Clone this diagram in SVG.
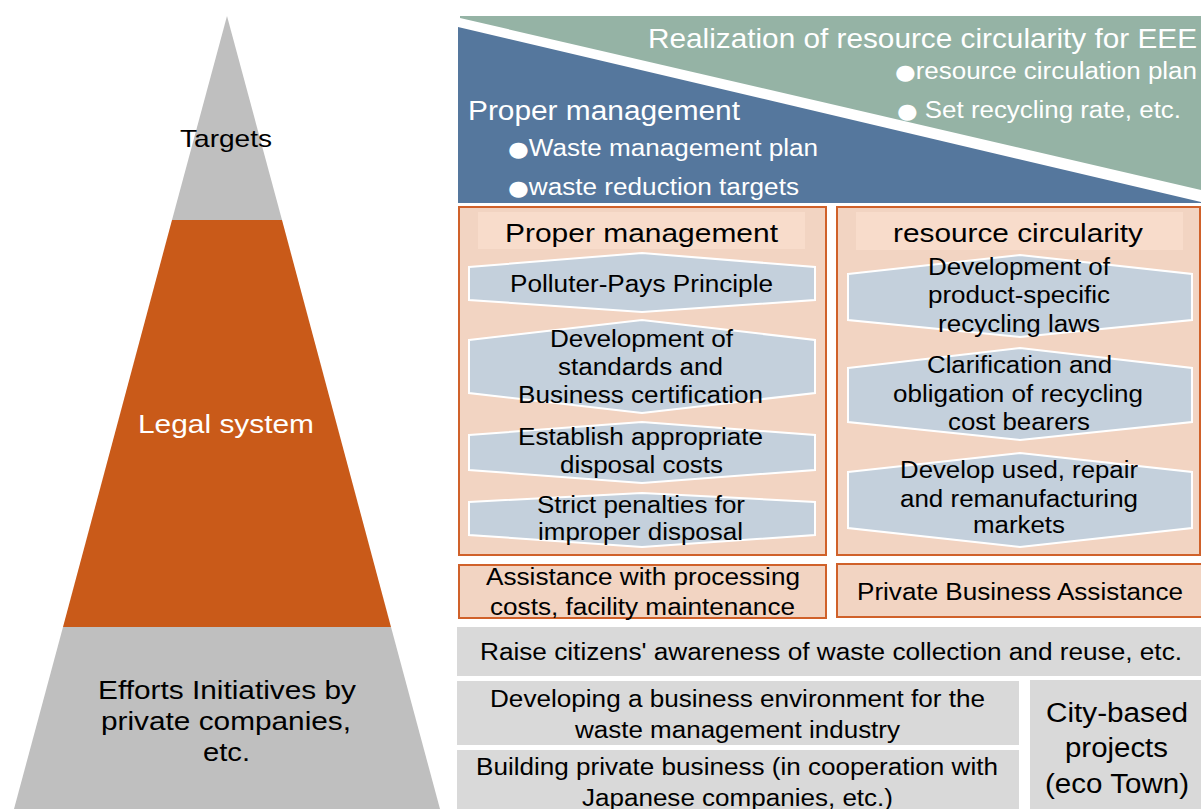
<svg xmlns="http://www.w3.org/2000/svg" width="1201" height="809" viewBox="0 0 1201 809">
  <style>
    text { font-family: "Liberation Sans", Arial, sans-serif; }
    .dark { fill: #000000; }
    .light { fill: #ffffff; }
    .dot { font-family: "DejaVu Sans", sans-serif; font-size: 21px; }
    .panel { fill: #f2d4c2; stroke: #d0612a; stroke-width: 2; }
    .head { fill: #f8dccb; }
    .hex { fill: #c4d0dc; stroke: #ffffff; stroke-width: 2; stroke-linejoin: miter; }
    .grey { fill: #d9d9d9; }
  </style>

  <rect width="1201" height="809" fill="#ffffff"/>

  <!-- Pyramid: targets / legal system / private initiatives -->
  <g id="pyramid-targets">
    <polygon points="227,16 282,220 172,220" fill="#bfbfbf"/>
    <text x="180" y="147" font-size="24" class="dark" textLength="92" lengthAdjust="spacingAndGlyphs">Targets</text>
  </g>
  <g id="pyramid-legal">
    <polygon points="172,220 282,220 391,627 63,627" fill="#c95a19"/>
    <text x="138" y="433" font-size="26" class="light" textLength="176" lengthAdjust="spacingAndGlyphs">Legal system</text>
  </g>
  <g id="pyramid-private">
    <polygon points="63,627 391,627 440,809 14,809" fill="#bfbfbf"/>
    <text x="98" y="699" font-size="26" class="dark" textLength="258" lengthAdjust="spacingAndGlyphs">Efforts Initiatives by</text>
    <text x="101" y="730" font-size="26" class="dark" textLength="250" lengthAdjust="spacingAndGlyphs">private companies,</text>
    <text x="203" y="761" font-size="26" class="dark" textLength="47" lengthAdjust="spacingAndGlyphs">etc.</text>
  </g>

  <!-- Targets banner: two triangles split by a white diagonal -->
  <g id="banner-circularity">
    <polygon points="460,16 1201,16 1201,190 460,18" fill="#95b3a5"/>
    <text x="648" y="48" font-size="28" class="light" textLength="549" lengthAdjust="spacingAndGlyphs">Realization of resource circularity for EEE</text>
    <text x="895" y="79" font-size="23" class="light" textLength="302" lengthAdjust="spacingAndGlyphs"><tspan class="dot">●</tspan>resource circulation plan</text>
    <text x="897" y="118" font-size="23" class="light" textLength="284" lengthAdjust="spacingAndGlyphs"><tspan class="dot">●</tspan> Set recycling rate, etc.</text>
  </g>
  <g id="banner-management">
    <polygon points="458,27 1201,202 1201,203 458,203" fill="#55779d"/>
    <text x="468" y="120" font-size="27" class="light" textLength="272" lengthAdjust="spacingAndGlyphs">Proper management</text>
    <text x="508" y="156" font-size="23" class="light" textLength="310" lengthAdjust="spacingAndGlyphs"><tspan class="dot">●</tspan>Waste management plan</text>
    <text x="508" y="195" font-size="23" class="light" textLength="291" lengthAdjust="spacingAndGlyphs"><tspan class="dot">●</tspan>waste reduction targets</text>
  </g>

  <!-- Legal system: proper management column -->
  <g id="panel-management">
    <rect x="459" y="207" width="367" height="348" class="panel"/>
    <rect x="478" y="212" width="327" height="37" class="head"/>
    <text x="505" y="242" font-size="26" class="dark" textLength="273" lengthAdjust="spacingAndGlyphs">Proper management</text>
  </g>
  <g id="law-polluter-pays">
    <polygon points="469,267 642,253 815,267 815,300 642,312 469,300" class="hex"/>
    <text x="510" y="292" font-size="23" class="dark" textLength="263" lengthAdjust="spacingAndGlyphs">Polluter-Pays Principle</text>
  </g>
  <g id="law-standards">
    <polygon points="469,340 642,320 815,340 815,393 642,413 469,393" class="hex"/>
    <text x="550" y="347" font-size="23" class="dark" textLength="183" lengthAdjust="spacingAndGlyphs">Development of</text>
    <text x="558" y="375" font-size="23" class="dark" textLength="165" lengthAdjust="spacingAndGlyphs">standards and</text>
    <text x="518" y="403" font-size="23" class="dark" textLength="245" lengthAdjust="spacingAndGlyphs">Business certification</text>
  </g>
  <g id="law-disposal-costs">
    <polygon points="469,435 642,422 815,435 815,470 642,483 469,470" class="hex"/>
    <text x="518" y="445" font-size="23" class="dark" textLength="245" lengthAdjust="spacingAndGlyphs">Establish appropriate</text>
    <text x="560" y="473" font-size="23" class="dark" textLength="163" lengthAdjust="spacingAndGlyphs">disposal costs</text>
  </g>
  <g id="law-penalties">
    <polygon points="469,502 642,493 815,502 815,535 642,547 469,535" class="hex"/>
    <text x="537" y="513" font-size="23" class="dark" textLength="208" lengthAdjust="spacingAndGlyphs">Strict penalties for</text>
    <text x="538" y="540" font-size="23" class="dark" textLength="205" lengthAdjust="spacingAndGlyphs">improper disposal</text>
  </g>

  <!-- Legal system: resource circularity column -->
  <g id="panel-circularity">
    <rect x="837" y="207" width="363" height="348" class="panel"/>
    <rect x="856" y="212" width="327" height="38" class="head"/>
    <text x="893" y="242" font-size="26" class="dark" textLength="250" lengthAdjust="spacingAndGlyphs">resource circularity</text>
  </g>
  <g id="law-product-recycling">
    <polygon points="848,274 1020,255 1192,274 1192,320 1020,337 848,320" class="hex"/>
    <text x="928" y="275" font-size="23" class="dark" textLength="182" lengthAdjust="spacingAndGlyphs">Development of</text>
    <text x="928" y="303" font-size="23" class="dark" textLength="182" lengthAdjust="spacingAndGlyphs">product-specific</text>
    <text x="938" y="332" font-size="23" class="dark" textLength="162" lengthAdjust="spacingAndGlyphs">recycling laws</text>
  </g>
  <g id="law-cost-bearers">
    <polygon points="848,368 1020,348 1192,368 1192,422 1020,440 848,422" class="hex"/>
    <text x="927" y="373" font-size="23" class="dark" textLength="185" lengthAdjust="spacingAndGlyphs">Clarification and</text>
    <text x="893" y="402" font-size="23" class="dark" textLength="250" lengthAdjust="spacingAndGlyphs">obligation of recycling</text>
    <text x="948" y="430" font-size="23" class="dark" textLength="142" lengthAdjust="spacingAndGlyphs">cost bearers</text>
  </g>
  <g id="law-reuse-markets">
    <polygon points="848,472 1020,453 1192,472 1192,528 1020,547 848,528" class="hex"/>
    <text x="900" y="478" font-size="23" class="dark" textLength="238" lengthAdjust="spacingAndGlyphs">Develop used, repair</text>
    <text x="900" y="507" font-size="23" class="dark" textLength="238" lengthAdjust="spacingAndGlyphs">and remanufacturing</text>
    <text x="973" y="533" font-size="23" class="dark" textLength="92" lengthAdjust="spacingAndGlyphs">markets</text>
  </g>

  <!-- Assistance row -->
  <g id="assist-processing">
    <rect x="459" y="565" width="367" height="53" class="panel"/>
    <text x="486" y="585" font-size="23" class="dark" textLength="314" lengthAdjust="spacingAndGlyphs">Assistance with processing</text>
    <text x="490" y="615" font-size="23" class="dark" textLength="305" lengthAdjust="spacingAndGlyphs">costs, facility maintenance</text>
  </g>
  <g id="assist-private">
    <rect x="837" y="564" width="370" height="53" class="panel"/>
    <text x="857" y="600" font-size="23" class="dark" textLength="326" lengthAdjust="spacingAndGlyphs">Private Business Assistance</text>
  </g>

  <!-- Private initiatives -->
  <g id="init-awareness">
    <rect x="457" y="627" width="744" height="49" class="grey"/>
    <text x="480" y="660" font-size="23" class="dark" textLength="702" lengthAdjust="spacingAndGlyphs">Raise citizens' awareness of waste collection and reuse, etc.</text>
  </g>
  <g id="init-business-env">
    <rect x="457" y="681" width="562" height="64" class="grey"/>
    <text x="490" y="707" font-size="23" class="dark" textLength="495" lengthAdjust="spacingAndGlyphs">Developing a business environment for the</text>
    <text x="575" y="738" font-size="23" class="dark" textLength="325" lengthAdjust="spacingAndGlyphs">waste management industry</text>
  </g>
  <g id="init-private-business">
    <rect x="457" y="750" width="562" height="59" class="grey"/>
    <text x="476" y="775" font-size="23" class="dark" textLength="522" lengthAdjust="spacingAndGlyphs">Building private business (in cooperation with</text>
    <text x="582" y="806" font-size="23" class="dark" textLength="311" lengthAdjust="spacingAndGlyphs">Japanese companies, etc.)</text>
  </g>
  <g id="init-city">
    <rect x="1030" y="680" width="171" height="129" class="grey"/>
    <text x="1046" y="722" font-size="27" class="dark" textLength="142" lengthAdjust="spacingAndGlyphs">City-based</text>
    <text x="1065" y="757" font-size="27" class="dark" textLength="103" lengthAdjust="spacingAndGlyphs">projects</text>
    <text x="1045" y="793" font-size="27" class="dark" textLength="144" lengthAdjust="spacingAndGlyphs">(eco Town)</text>
  </g>
</svg>
